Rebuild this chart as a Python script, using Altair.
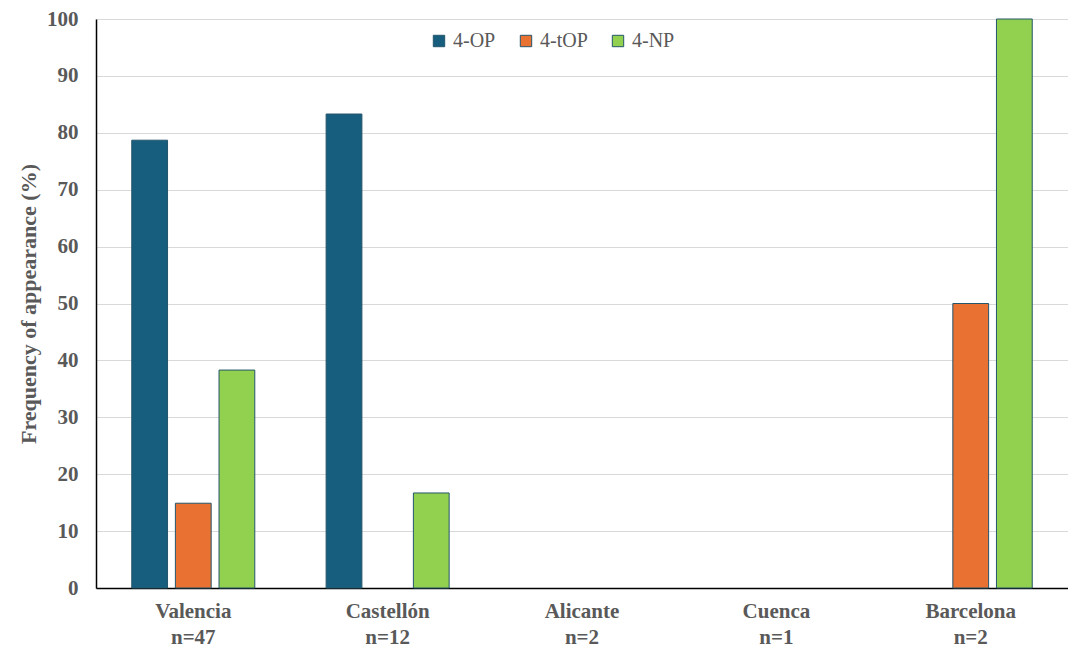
import altair as alt
import pandas as pd

cities = ["Valencia", "Castellón", "Alicante", "Cuenca", "Barcelona"]
sizes = ["n=47", "n=12", "n=2", "n=1", "n=2"]
series = ["4-OP", "4-tOP", "4-NP"]
op_vals = [78.7, 83.3, 0, 0, 0]
top_vals = [14.9, 0, 0, 0, 50.0]
np_vals = [38.3, 16.7, 0, 0, 100.0]
colors = ["#175E7E", "#E97132", "#92D050"]

rows = []
for i, c in enumerate(cities):
    lab = c + "|" + sizes[i]
    for s, vals in zip(series, [op_vals, top_vals, np_vals]):
        rows.append({"city": lab, "series": s, "value": vals[i]})
df = pd.DataFrame(rows)
city_labels = [c + "|" + n for c, n in zip(cities, sizes)]

FONT = "Liberation Serif"
GRAY = "#595959"

chart = alt.Chart(df).transform_filter("datum.value > 0").mark_bar(
    stroke="#24566B", strokeWidth=1
).encode(
    x=alt.X("city:N", sort=city_labels,
            scale=alt.Scale(domain=city_labels, paddingInner=0.367, paddingOuter=0.184),
            axis=alt.Axis(title=None, labelExpr="split(datum.value, '|')", labelAngle=0,
                          labelFont=FONT, labelFontSize=21, labelFontWeight="bold",
                          labelColor=GRAY, labelLineHeight=26, labelPadding=12,
                          ticks=False, domainColor="#000000", domainWidth=1.5)),
    xOffset=alt.XOffset("series:N", sort=series,
                        scale=alt.Scale(domain=series, paddingInner=0.18, paddingOuter=0)),
    y=alt.Y("value:Q", scale=alt.Scale(domain=[0, 100], nice=False),
            axis=alt.Axis(title="Frequency of appearance  (%)", values=list(range(0, 101, 10)),
                          titleFont=FONT, titleFontSize=22, titleFontWeight="bold",
                          titleColor=GRAY, titlePadding=6,
                          labelFont=FONT, labelFontSize=21, labelFontWeight="bold",
                          labelColor=GRAY, labelPadding=18, ticks=False,
                          domainColor="#000000", domainWidth=1.5,
                          gridColor="#D9D9D9", gridWidth=1)),
    color=alt.Color("series:N", sort=series,
                    scale=alt.Scale(domain=series, range=colors),
                    legend=alt.Legend(title=None, orient="none", direction="horizontal",
                                      legendX=333, legendY=12, symbolType="square",
                                      symbolSize=130, symbolStrokeColor="#24566B",
                                      symbolStrokeWidth=1, columnPadding=20,
                                      labelFont=FONT, labelFontSize=20, labelColor=GRAY,
                                      labelOffset=4)),
).properties(
    width=972, height=569, padding={"left": 9, "top": 0, "right": 0, "bottom": 0}
).configure_view(stroke=None)

chart.save("out.html", embed_options={"renderer": "svg", "actions": False})
